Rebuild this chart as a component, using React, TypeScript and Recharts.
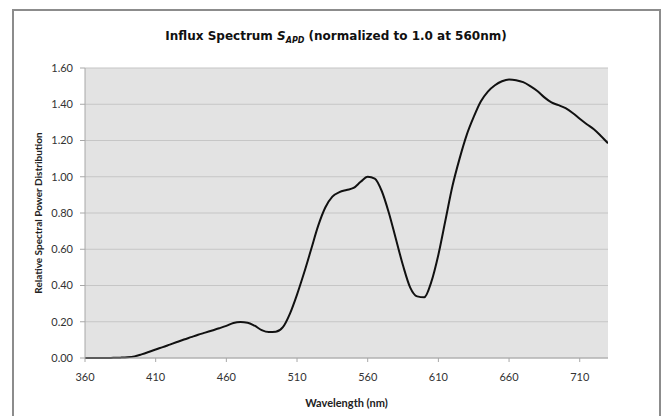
import { LineChart, Line, XAxis, YAxis, CartesianGrid } from 'recharts'

// wavelength in nm, 5nm steps
const wavelengths = [
  360, 365, 370, 375, 380, 385, 390, 395, 400, 405, 410, 415, 420, 425, 430, 435, 440, 445, 450, 455,
  460, 465, 470, 475, 480, 485, 490, 495, 500, 505, 510, 515, 520, 525, 530, 535, 540, 545, 550, 555,
  560, 565, 570, 575, 580, 585, 590, 595, 600, 605, 610, 615, 620, 625, 630, 635, 640, 645, 650, 655,
  660, 665, 670, 675, 680, 685, 690, 695, 700, 705, 710, 715, 720, 725, 730,
]

// relative spectral power, normalized to 1.0 at 560nm
const spd = [
  0, 0, 0, 0, 0.001, 0.002, 0.004, 0.009, 0.02, 0.033, 0.047, 0.06, 0.074, 0.088, 0.102, 0.115, 0.128, 0.14, 0.152, 0.164,
  0.177, 0.193, 0.198, 0.195, 0.178, 0.154, 0.143, 0.145, 0.17, 0.245, 0.35, 0.47, 0.6, 0.73, 0.83, 0.89, 0.915, 0.927, 0.938, 0.972,
  1.0, 0.99, 0.92, 0.8, 0.655, 0.51, 0.39, 0.34, 0.335, 0.42, 0.57, 0.76, 0.95, 1.1, 1.23, 1.33, 1.415, 1.47, 1.505, 1.527,
  1.537, 1.533, 1.522, 1.5, 1.473, 1.438, 1.41, 1.395, 1.378, 1.352, 1.32, 1.29, 1.262, 1.225, 1.185,
]

const xTicks = [360, 410, 460, 510, 560, 610, 660, 710]
const yTicks = [0, 0.2, 0.4, 0.6, 0.8, 1.0, 1.2, 1.4, 1.6]

const data = wavelengths.map((w, i) => ({ nm: w, v: spd[i] }))

const tickFont = { fontSize: 11, fill: '#333', fontFamily: 'Lato, "Open Sans", sans-serif' }

export default function App() {
  return (
    <div style={{ position: 'fixed', left: 0, top: 0, width: 661, height: 416, background: '#fff', overflow: 'hidden' }}>
      <div style={{ position: 'absolute', left: 12, top: 9, width: 645, height: 430, border: '2px solid #8c8c8c' }} />
      <div
        style={{
          position: 'absolute', left: 0, top: 29, width: 672, textAlign: 'center',
          fontFamily: '"DejaVu Sans", Verdana, sans-serif', fontWeight: 'bold', fontSize: 12, color: '#111',
        }}
      >
        Influx Spectrum <i>S<sub style={{ fontSize: 8 }}>APD</sub></i> (normalized to 1.0 at 560nm)
      </div>
      <div style={{ position: 'absolute', left: 0, top: 0 }}>
        <LineChart width={661} height={416} data={data} margin={{ top: 68, right: 53, bottom: 28, left: 25 }}>
          <CartesianGrid vertical={false} stroke="#c6c6c6" fill="#e3e3e3" strokeWidth={1.2} />
          <XAxis
            dataKey="nm"
            type="number"
            domain={[360, 730]}
            ticks={xTicks}
            allowDataOverflow
            height={30}
            tickSize={4}
            tickMargin={11}
            tick={tickFont}
            stroke="#a8a8a8"
            label={{
              value: 'Wavelength (nm)', position: 'insideBottom', offset: -19,
              style: { fontSize: 11, fontWeight: 'bold', fill: '#222', fontFamily: 'Lato, "Open Sans", sans-serif' },
            }}
          />
          <YAxis
            type="number"
            domain={[0, 1.6]}
            ticks={yTicks}
            width={60}
            tickSize={5}
            tickMargin={7}
            tick={tickFont}
            stroke="#a8a8a8"
            tickFormatter={(v: number) => v.toFixed(2)}
            label={{
              value: 'Relative Spectral Power Distribution', angle: -90, position: 'insideLeft', offset: 13,
              style: { textAnchor: 'middle', fontSize: 10, fontWeight: 'bold', fill: '#222', fontFamily: 'Lato, "Open Sans", sans-serif' },
            }}
          />
          <Line type="monotone" dataKey="v" stroke="#111" strokeWidth={2} dot={false} isAnimationActive={false} />
        </LineChart>
      </div>
    </div>
  )
}
